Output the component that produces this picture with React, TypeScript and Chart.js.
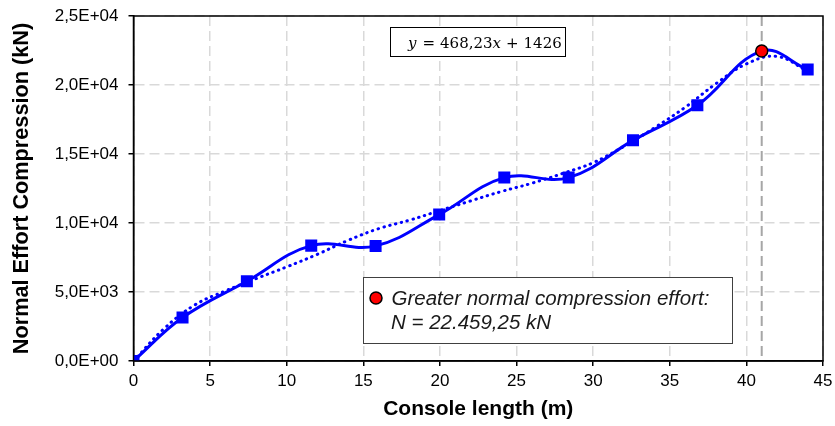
import React, { useEffect, useRef } from 'react';
import { Chart, registerables } from 'chart.js';

Chart.register(...registerables);

// ---- data ----
const LENGTHS = [0, 3.2, 7.4, 11.6, 15.8, 19.95, 24.2, 28.4, 32.6, 36.8, 41.0, 44.0];
const EFFORTS = [0, 3150, 5780, 8360, 8340, 10610, 13290, 13290, 15990, 18530, 22459.25, 21120];
const MAX_INDEX = 10;

const TREND_X = [0, 2, 4, 6, 8, 10, 12, 14, 16, 18, 20, 22, 24, 26, 28, 30, 32, 34, 36, 38, 40, 42, 44];
const TREND_Y = [0, 2350, 4060, 5080, 5970, 6820, 7730, 8740, 9590, 10200, 10900, 11600, 12280, 12880, 13590, 14370, 15550, 16900, 18380, 20080, 21530, 22070, 21000];

const X_MIN = 0;
const X_MAX = 45;
const X_STEP = 5;
const Y_MIN = 0;
const Y_MAX = 25000;
const Y_STEP = 5000;
const Y_TICK_LABELS = ['0,0E+00', '5,0E+03', '1,0E+04', '1,5E+04', '2,0E+04', '2,5E+04'];

const X_TITLE = 'Console length (m)';
const Y_TITLE = 'Normal Effort Compression (kN)';
const EQUATION_PARTS = [
  { t: 'y', italic: true },
  { t: '=', italic: false },
  { t: '468,23', italic: false },
  { t: 'x', italic: true },
  { t: '+', italic: false },
  { t: '1426', italic: false },
];
const NOTE_LINES = ['Greater normal compression effort:', 'N = 22.459,25 kN'];

const SANS = '"Liberation Sans", Arial, sans-serif';
const SERIF = '"DejaVu Serif", "Liberation Serif", serif';

const overlayPlugin = {
  id: 'overlay',
  beforeDatasetsDraw(chart: any) {
    const { ctx, chartArea: a, scales } = chart;
    const px = scales.x.getPixelForValue(LENGTHS[MAX_INDEX]);
    ctx.save();
    ctx.strokeStyle = '#a6a6a6';
    ctx.lineWidth = 2;
    ctx.setLineDash([10, 5]);
    ctx.beginPath();
    ctx.moveTo(px, a.top);
    ctx.lineTo(px, a.bottom);
    ctx.stroke();
    ctx.restore();
  },
  afterDatasetsDraw(chart: any) {
    const { ctx, chartArea: a } = chart;
    ctx.save();
    // plot frame
    ctx.strokeStyle = '#000';
    ctx.lineWidth = 1.5;
    ctx.setLineDash([]);
    ctx.strokeRect(a.left, a.top, a.right - a.left, a.bottom - a.top);

    // equation box
    const ex = a.left + 256.5;
    const ey = a.top + 11;
    const ew = 175;
    const eh = 29;
    ctx.fillStyle = '#fff';
    ctx.fillRect(ex, ey, ew, eh);
    ctx.strokeStyle = '#000';
    ctx.lineWidth = 1;
    ctx.strokeRect(ex + 0.5, ey + 0.5, ew, eh);
    ctx.fillStyle = '#000';
    ctx.textBaseline = 'alphabetic';
    ctx.textAlign = 'left';
    const gaps = [18, 6, 5, 0, 5, 5];
    let cx = ex;
    EQUATION_PARTS.forEach((p, i) => {
      ctx.font = (p.italic ? 'italic ' : '') + '15px ' + SERIF;
      cx += gaps[i];
      ctx.fillText(p.t, cx, ey + 21);
      cx += ctx.measureText(p.t).width;
    });

    // note box
    const nx = a.left + 229.5;
    const ny = a.top + 261;
    const nw = 369;
    const nh = 66;
    ctx.fillStyle = '#fff';
    ctx.fillRect(nx, ny, nw, nh);
    ctx.strokeStyle = '#404040';
    ctx.lineWidth = 1;
    ctx.strokeRect(nx + 0.5, ny + 0.5, nw, nh);
    ctx.beginPath();
    ctx.arc(nx + 13, ny + 21, 6, 0, Math.PI * 2);
    ctx.fillStyle = '#ff0000';
    ctx.fill();
    ctx.strokeStyle = '#000';
    ctx.lineWidth = 1.5;
    ctx.stroke();
    ctx.fillStyle = '#1a1a1a';
    ctx.font = 'italic 20.5px ' + SANS;
    ctx.fillText(NOTE_LINES[0], nx + 28.5, ny + 28);
    ctx.fillText(NOTE_LINES[1], nx + 28, ny + 51.5);
    ctx.restore();
  },
};

export default function App() {
  const ref = useRef<HTMLCanvasElement | null>(null);
  useEffect(() => {
    document.body.style.margin = '0';
    if (!ref.current) return;
    const tickFont = { family: SANS, size: 17 };
    const xTitleFont = { family: SANS, size: 21, weight: 'bold' as const };
    const yTitleFont = { family: SANS, size: 21.7, weight: 'bold' as const };
    const chart = new Chart(ref.current, {
      type: 'line',
      data: {
        datasets: [
          {
            label: 'max',
            data: [{ x: LENGTHS[MAX_INDEX], y: EFFORTS[MAX_INDEX] }],
            showLine: false,
            pointStyle: 'circle',
            pointRadius: 6,
            pointBackgroundColor: '#ff0000',
            pointBorderColor: '#000',
            pointBorderWidth: 1.5,
          },
          {
            label: 'N',
            data: LENGTHS.map((x, i) => ({ x, y: EFFORTS[i] })),
            borderColor: '#0000ff',
            borderWidth: 3,
            tension: 0.4,
            pointStyle: 'rect',
            pointRadius: LENGTHS.map((_, i) => (i === MAX_INDEX ? 0 : 8.5)),
            pointBackgroundColor: '#0000ff',
            pointBorderColor: '#0000ff',
            pointBorderWidth: 0,
          },
          {
            label: 'trend',
            data: TREND_X.map((x, i) => ({ x, y: TREND_Y[i] })),
            borderColor: '#0000ff',
            borderWidth: 3,
            borderDash: [0.5, 5.5],
            borderCapStyle: 'round',
            tension: 0.4,
            pointRadius: 0,
          },
        ],
      },
      options: {
        animation: false,
        responsive: false,
        events: [],
        layout: { padding: { left: 0, top: 16, right: 12, bottom: 0 } },
        plugins: { legend: { display: false }, tooltip: { enabled: false } },
        scales: {
          x: {
            type: 'linear',
            min: X_MIN,
            max: X_MAX,
            ticks: { stepSize: X_STEP, font: tickFont, color: '#000', padding: 5 },
            grid: { color: '#d9d9d9', lineWidth: 1.5, tickColor: '#000', tickLength: 5, tickWidth: 1.5 },
            border: { color: '#000', width: 1.5, dash: [10, 5] },
            title: { display: true, text: X_TITLE, font: xTitleFont, color: '#000', padding: { top: 0, bottom: 4 } },
            afterFit(s: any) {
              s.height = 65;
              s.paddingLeft = 0;
              s.paddingRight = 0;
            },
          },
          y: {
            type: 'linear',
            min: Y_MIN,
            max: Y_MAX,
            ticks: {
              stepSize: Y_STEP,
              font: tickFont,
              color: '#000',
              padding: 10,
              callback: (v: any) => Y_TICK_LABELS[Math.round((Number(v) - Y_MIN) / Y_STEP)] ?? '',
            },
            grid: { color: '#d9d9d9', lineWidth: 1.5, tickColor: '#000', tickLength: 5, tickWidth: 1.5 },
            border: { color: '#000', width: 1.5, dash: [10, 5] },
            title: { display: true, text: Y_TITLE, font: yTitleFont, color: '#000', padding: { top: 9, bottom: 0 } },
            afterFit(s: any) {
              s.width = 133.5;
              s.paddingTop = 0;
              s.paddingBottom = 0;
            },
          },
        },
      },
      plugins: [overlayPlugin],
    } as any);
    return () => chart.destroy();
  }, []);
  return (
    <div style={{ width: 835, height: 426, position: 'relative' }}>
      <canvas ref={ref} width={835} height={426} style={{ width: 835, height: 426, display: 'block' }} />
    </div>
  );
}
